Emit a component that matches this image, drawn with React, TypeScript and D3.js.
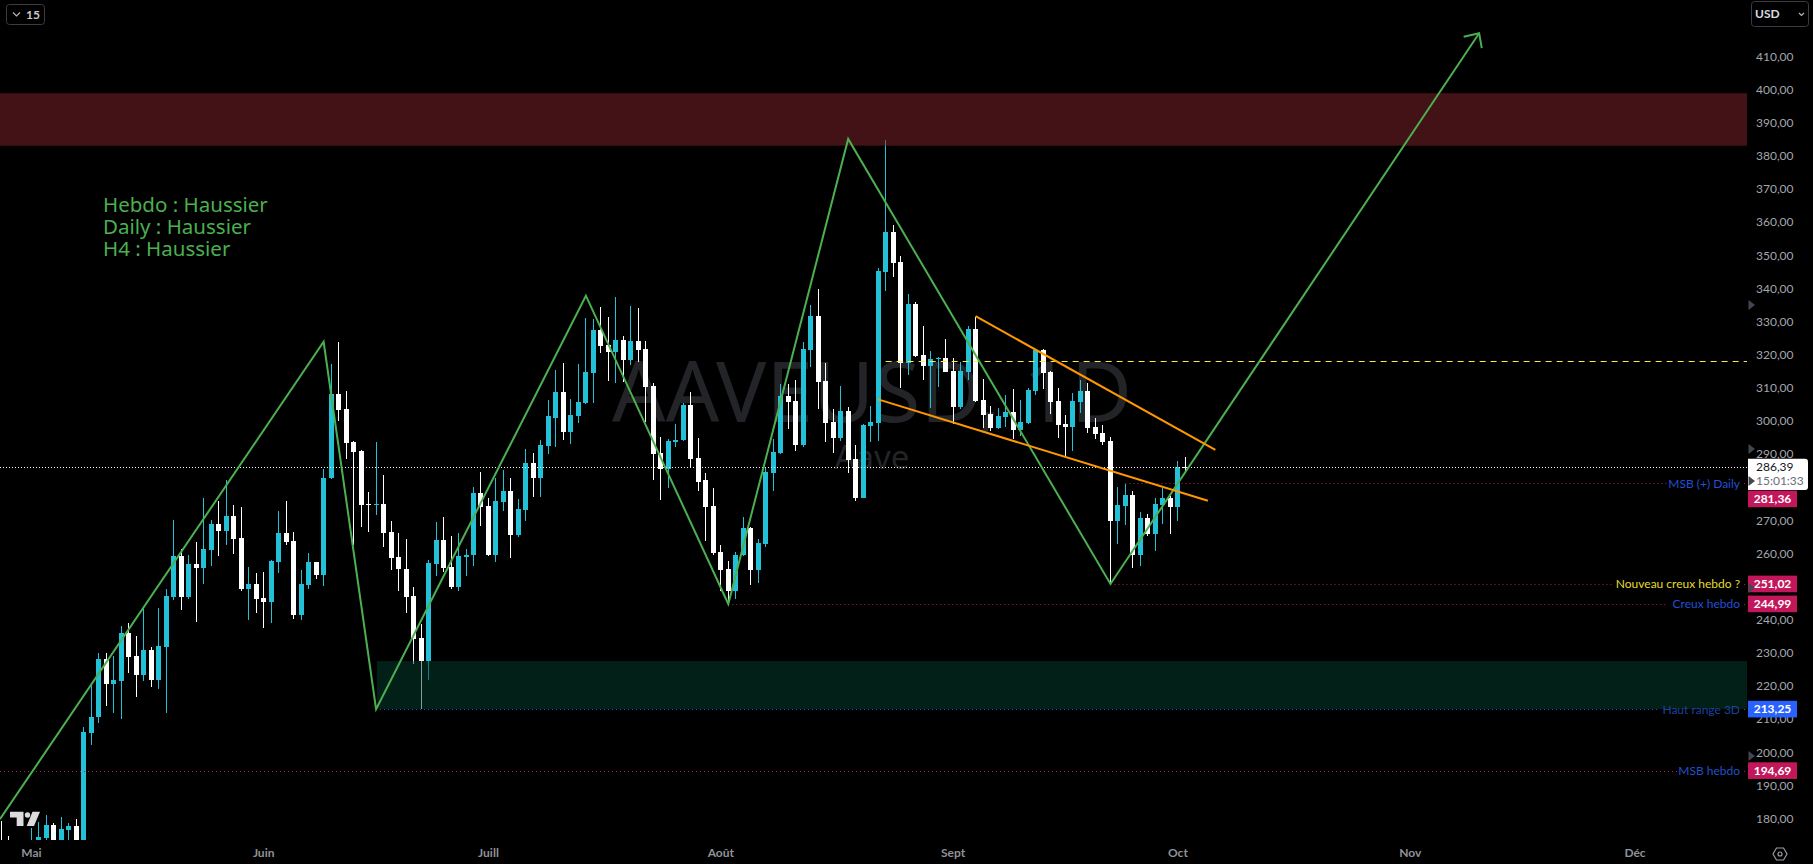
import React from "react";
import * as d3 from "d3";

type Candle = [number, number, number, number]; // open, high, low, close

const lateAprilCandles: Candle[] = [
  [173, 179.4, 168, 170], [173, 174.9, 168, 170], [171, 173, 167, 169], [171, 173, 167, 169],
];
const mayCandles: Candle[] = [
  [170, 177.3, 168, 173], [170, 179.1, 168, 174.6], [174.3, 181.2, 173.5, 178.2], [178.2, 178.8, 170, 172],
  [172, 180.6, 170, 177], [176.7, 178.8, 171, 177.9], [177.9, 180, 170, 172], [172, 208, 170, 206.2],
  [205.9, 220.4, 202.3, 211], [210.8, 230.1, 209, 228.5], [228.5, 230.1, 214.1, 220.7], [220.7, 229.4, 212, 221.9],
  [221.6, 238.2, 210.2, 236.1], [236.1, 239.1, 224, 229.1], [229.4, 235.2, 216.8, 223.4], [223.4, 244.2, 221.6, 231],
  [231, 231.9, 219.8, 221.9], [221.9, 243.9, 219.2, 232.2], [231.9, 249.6, 212, 247.5], [247.2, 270.2, 246.3, 259.3],
  [259.3, 261.7, 243.3, 247.2], [247.2, 259.9, 246.6, 256.9], [256.9, 263.8, 239.4, 255.7], [255.7, 276.8, 250.9, 261.7],
  [261.4, 270.4, 256.3, 269.2], [269.2, 275.9, 259.3, 267.1], [267.1, 282.5, 262.9, 271.4], [271.4, 274.7, 260.2, 264.7],
  [265, 274.1, 249, 249.6], [249.6, 256, 240, 250.9], [250.9, 254.2, 242.1, 246.6],
];
const juneCandles: Candle[] = [
  [246.9, 254.5, 237.6, 245.7], [245.7, 258.1, 239.1, 257.8], [257.5, 272.9, 254.2, 266.5], [266.5, 275.9, 262.9, 263.8],
  [264.1, 266.8, 240.3, 241.5], [241.6, 255.1, 240.1, 250.9], [250.6, 260.5, 249.4, 257.5], [257.5, 257.7, 252.4, 253.6],
  [253.6, 285.6, 250.3, 283.1], [282.9, 317.5, 282.7, 308.2], [308.2, 323.9, 300.3, 303.4], [303.7, 309.1, 288.6, 293.4],
  [293.7, 294, 262.7, 290.7], [291, 291.3, 268.1, 274.7], [275, 278.9, 266.6, 274.7], [274.7, 293.7, 271.7, 275],
  [275, 283.8, 262.3, 266.3], [266.6, 269.9, 255.1, 258.7], [259, 266.3, 248.8, 255.4], [255.4, 264.5, 242.1, 247],
  [247.3, 250, 227, 234.3], [234.6, 238.8, 213.2, 227.7], [227.7, 258.1, 222, 257.2], [256.9, 269.6, 253.3, 264.2],
  [264.2, 271.1, 254.5, 255.7], [256, 265.4, 249.4, 250], [250, 266.3, 248.8, 259.3], [259, 261.7, 253.3, 259.9],
  [259.6, 280.4, 256.3, 278.6], [278.6, 284.7, 268.4, 274.1],
];
const julyCandles: Candle[] = [
  [274.4, 277.1, 259.4, 259.6], [259.6, 283.1, 257.5, 275.9], [275.6, 285.3, 272.9, 279.2], [279.2, 282.9, 258.7, 265.7],
  [265.7, 276.5, 265.1, 273.5], [273.2, 291.6, 269.9, 287.4], [287.4, 290.4, 277.4, 282.9], [282.9, 294.6, 277.4, 292.8],
  [292.5, 306.4, 290.1, 301.6], [301.2, 315.7, 292.2, 308.8], [308.8, 317.8, 294.3, 297], [297, 306.7, 293.1, 302.1],
  [301.8, 317.5, 299.7, 305.8], [305.5, 331.4, 305.2, 315.1], [314.8, 331.1, 305.5, 327.5], [327.5, 334.7, 320.8, 322.7],
  [323, 331.7, 312.4, 321.1], [321.1, 337.7, 311.5, 324.5], [324.5, 325.7, 312.1, 318.7], [318.7, 335, 317.2, 324.2],
  [324.2, 334.4, 318.1, 321.7], [322, 324.2, 300, 310.3], [310.6, 311.5, 282.3, 290.1], [290.4, 295.5, 276.2, 285.6],
  [285.6, 294.9, 280.1, 294], [293.7, 299.4, 292.2, 294.6], [294.3, 305.5, 294, 304.9], [304.9, 308.8, 285.9, 288.6],
  [288.9, 295.2, 279.2, 281.9], [282.3, 284.4, 263.9, 274.1], [274.4, 280.1, 259.9, 260.5],
];
const augustCandles: Candle[] = [
  [260.8, 262.7, 249, 255.1], [255.4, 257.8, 246, 249], [249, 260.8, 246.4, 259.9], [259.6, 271.1, 259.3, 267.8],
  [267.8, 268.1, 250.6, 255.1], [255.1, 264.5, 251.2, 263.3], [263, 286.2, 262.3, 284.9], [284.6, 294.9, 279.2, 290.7],
  [290.4, 311.2, 290.1, 307.6], [307.6, 311.2, 297.9, 305.8], [306.1, 312.7, 291, 292.8], [292.8, 323.9, 292.2, 322],
  [321.7, 335.3, 316.6, 332], [332, 340.1, 303.7, 312.1], [312.4, 317.8, 293.7, 299.7], [300, 303.7, 290.4, 295.2],
  [295.2, 310.6, 294, 303.1], [303.1, 304.3, 284.4, 288.3], [288.6, 292.8, 275.9, 277.1], [277.1, 299.3, 276.8, 299.1],
  [298.8, 304.6, 293.7, 300], [299.7, 346.2, 294, 345.3], [345, 385.1, 339.5, 357.3], [357.3, 359.4, 343.5, 348],
  [348.3, 350.1, 310, 317.8], [317.8, 338.6, 314.2, 335.6], [335.6, 336.2, 319.6, 319.9], [320.2, 328.7, 312.7, 316.9],
  [316.9, 321.2, 304, 319], [319, 319.6, 310.3, 319.3], [319.3, 324.8, 315, 315.1],
];
const septemberCandles: Candle[] = [
  [315.4, 319.3, 299.4, 304.3], [304.3, 318.1, 303.7, 315.4], [315.1, 328.7, 312.7, 327.8], [327.8, 331.7, 306, 306.1],
  [306.4, 313, 298.2, 301.9], [302.2, 304.6, 297.3, 298], [298, 304, 297.9, 301.6], [301.3, 307.9, 298.5, 302.8],
  [302.8, 309.7, 294.9, 297.6], [297.6, 306.4, 295.8, 300], [299.7, 310, 299.4, 309.4], [309.1, 321.8, 307.9, 321.5],
  [321.5, 321.8, 309.7, 314.8], [315.1, 315.4, 302.2, 305.8], [306.1, 310, 295.2, 299.1], [299.4, 301.9, 289.5, 298.5],
  [298.5, 308.5, 291, 306.1], [305.8, 312.7, 302.5, 309.1], [309.1, 311.8, 296.7, 298.2], [298.5, 301, 294.9, 296.4],
  [296.7, 299.1, 292.8, 293.7], [294, 295.5, 251, 269.9], [269.9, 280.4, 263.2, 274.7], [274.4, 281.2, 268.7, 278],
  [278, 279.2, 255.7, 259.9], [259.9, 272.6, 256.3, 270.8], [270.8, 272, 265.6, 266.2], [266.2, 277.1, 261.1, 275],
  [274.7, 280.1, 269, 277.1], [277.1, 277.7, 266.2, 274.1],
];
const octoberCandles: Candle[] = [
  [274.1, 288, 269.9, 286.4], [286.4, 289.2, 285, 286.39],
];
const candles: Candle[] = [
  ...lateAprilCandles, ...mayCandles, ...juneCandles, ...julyCandles,
  ...augustCandles, ...septemberCandles, ...octoberCandles,
];

const priceTicks = [180, 190, 200, 210, 220, 230, 240, 260, 270, 290, 300, 310, 320, 330, 340, 350, 360, 370, 380, 390, 400, 410];
const monthNames = ["Mai", "Juin", "Juill", "Août", "Sept", "Oct", "Nov", "Déc"];
const monthDays = [4, 35, 65, 96, 127, 157, 188, 218];

const zigzag: [number, number][] = [[-0.2, 180], [43, 324.1], [50, 213.25], [78, 338], [97, 244.99], [113, 385.3], [148, 251.02], [197.2, 417.2]];
const upperTrend: [number, number][] = [[130, 331.8], [162, 291.5]];
const lowerTrend: [number, number][] = [[117, 306.7], [161, 276.1]];
const statusLines = ["Hebdo : Haussier", "Daily : Haussier", "H4 : Haussier"];

const lastPrice = 286.39;
const countdown = "15:01:33";
const dashedLevel = 318.2;
const resistanceZone = [383.25, 399.1];
const supportZone = [213.25, 227.75];
const supportZoneStart = 50.1;
const dashedStart = 118;

const levelPrices = [281.36, 251.02, 244.99, 213.25, 194.69];
const levelNames = ["MSB (+) Daily", "Nouveau creux hebdo ?", "Creux hebdo", "Haut range 3D", "MSB hebdo"];
const levelStarts = [150, 148, 97, 50, -1];
const levelTextColors = ["#2150d6", "#e6dc2c", "#2150d6", "#1c429f", "#2150c8"];
const levelLineColors = ["#c2183f", "#c2183f", "#c2183f", "#2f55e0", "#c2183f"];
const levelBoxColors = ["#c2185b", "#c2185b", "#c2185b", "#2962ff", "#c2185b"];
const levelLineEnds = [1667, 1612, 1668, 1658, 1677];
const levelBoxOffsets = [15.5, 0, 0, 0, 0];
const axisArrowPrices = [335.2, 291.7, 282.1, 249.8, 199.1];

const W = 1813, H = 864, plotRight = 1747, plotBottom = 840;
const x = d3.scaleLinear().domain([0, 158]).range([1.4, 1185.4]);
const y = d3.scaleLinear().domain([400, 180]).range([90.2, 819.3]);
const crispY = (v: number) => Math.round(y(v)) + 0.5;
const pline = d3.line<[number, number]>().x(d => x(d[0])).y(d => y(d[1]));
const comma = (v: number) => d3.format(".2f")(v).replace(".", ",");

const FONT = "Lato, 'Noto Sans', sans-serif";
const CYAN = "#22c1d8";
const GREEN = "#4caf50";
const ORANGE = "#ff9800";
const AXIS = "#a3a6ad";

export default function App() {
  const tip = zigzag[zigzag.length - 1];
  const tipX = x(tip[0]), tipY = y(tip[1]);
  return (
    <svg width={W} height={H} viewBox={`0 0 ${W} ${H}`}
      style={{ position: "fixed", left: 0, top: 0, background: "#000", display: "block" }}
      fontFamily={FONT}>
      <defs>
        <clipPath id="plot"><rect x={0} y={0} width={plotRight} height={plotBottom} /></clipPath>
      </defs>
      <rect width={W} height={H} fill="#000" />

      <g clipPath="url(#plot)">
        <text x={872} y={421.7} textAnchor="middle" fontSize={84} textLength={520} lengthAdjust="spacingAndGlyphs"
          fontFamily="'Noto Sans', sans-serif" fill="#222428">AAVEUSD, 1D</text>
        <text x={872} y={469} textAnchor="middle" fontSize={33} fontFamily="'Noto Sans', sans-serif" fill="#222428">Aave</text>

        <g shapeRendering="crispEdges">
          {candles.map((c, i) => {
            const [o, h, l, cl] = c;
            const cx = Math.floor(x(i));
            const up = cl > o;
            const col = up ? CYAN : "#ffffff";
            const top = y(Math.max(o, cl)), bot = y(Math.min(o, cl));
            return (
              <g key={i} fill={col}>
                <rect x={cx} y={y(h)} width={1} height={y(l) - y(h)} />
                <rect x={cx - 2} y={top} width={5} height={Math.max(1, bot - top)} />
              </g>
            );
          })}
        </g>

        <rect x={0} width={plotRight} y={y(resistanceZone[1])} height={y(resistanceZone[0]) - y(resistanceZone[1])} fill="#85242c" fillOpacity={0.5} />
        <rect x={x(supportZoneStart)} width={plotRight - x(supportZoneStart)} y={y(supportZone[1])} height={y(supportZone[0]) - y(supportZone[1])} fill="#043f30" fillOpacity={0.5} />

        <line x1={0} x2={plotRight} y1={crispY(lastPrice)} y2={crispY(lastPrice)} stroke="#fff" strokeWidth={1} strokeDasharray="1 2" />
        <line x1={x(dashedStart)} x2={plotRight} y1={crispY(dashedLevel)} y2={crispY(dashedLevel)} stroke="#ffeb3b" strokeWidth={1} strokeDasharray="6 5" />

        {levelPrices.map((p, i) => (
          <g key={p}>
            <line x1={Math.max(0, x(levelStarts[i]))} x2={levelLineEnds[i]} y1={crispY(p)} y2={crispY(p)}
              stroke={levelLineColors[i]} strokeWidth={1} strokeDasharray="1 3" />
            <line x1={1744} x2={1747} y1={crispY(p)} y2={crispY(p)} stroke={levelLineColors[i]} strokeWidth={1} strokeDasharray="1 3" />
            <text x={1740} y={y(p) + 4.5} textAnchor="end" fontSize={12} fill={levelTextColors[i]}>{levelNames[i]}</text>
          </g>
        ))}

        <path d={pline(zigzag) ?? ""} fill="none" stroke={GREEN} strokeWidth={2} />
        <path d={`M${tipX - 15.5},${tipY + 3.6}L${tipX},${tipY}L${tipX + 2.6},${tipY + 15}`} fill="none" stroke={GREEN} strokeWidth={2} />
        <path d={pline(upperTrend) ?? ""} fill="none" stroke={ORANGE} strokeWidth={2} />
        <path d={pline(lowerTrend) ?? ""} fill="none" stroke={ORANGE} strokeWidth={2} />

        {statusLines.map((s, i) => (
          <text key={s} x={103} y={212 + i * 22} fontSize={20.5} fontFamily="'Noto Sans', sans-serif" fill={GREEN}>{s}</text>
        ))}

        {/* logo */}
        <g fill="#dcdcdc">
          <path d="M10 811.7H23.5V826H16.7V817.4H10Z" />
          <circle cx={27.5} cy={815} r={2.7} />
          <path d="M32.5 811.7H40L34 826H26.7Z" />
        </g>
      </g>

      {/* price axis */}
      {priceTicks.map(t => (
        <text key={t} x={1756} y={y(t) + 3.6} fontSize={12} fill={AXIS}>{comma(t)}</text>
      ))}

      {levelPrices.map((p, i) => (
        <g key={p}>
          <rect x={1748} y={y(p) - 8.3 + levelBoxOffsets[i]} width={49} height={16.6} fill={levelBoxColors[i]} />
          <text x={1772.5} y={y(p) + 4.2 + levelBoxOffsets[i]} textAnchor="middle" fontSize={12} fontWeight={700} fill="#fff">{comma(p)}</text>
        </g>
      ))}

      <path d={`M1748 ${y(lastPrice) - 8}H1805a3 3 0 0 1 3 3V487a3 3 0 0 1 -3 3H1748Z`} fill="#fff" />
      <text x={1756} y={y(lastPrice) + 4.5} fontSize={12} fill="#131722">{comma(lastPrice)}</text>
      <text x={1756} y={y(lastPrice) + 18.5} fontSize={12} fill="#6a6d78">{countdown}</text>

      {axisArrowPrices.map(p => (
        <path key={p} d={`M1748.5 ${y(p) - 5}L1755 ${y(p)}L1748.5 ${y(p) + 5}Z`} fill="#434651" />
      ))}

      {/* time axis */}
      {monthDays.map((d, i) => (
        <text key={d} x={x(d)} y={857} textAnchor="middle" fontSize={12} fontWeight={700} fill="#8f9298">{monthNames[i]}</text>
      ))}

      {/* buttons */}
      <rect x={6.5} y={4.5} width={38} height={20} rx={3} fill="none" stroke="#3a3c42" />
      <path d="M13 12.5L16.5 16L20 12.5" fill="none" stroke="#b2b5be" strokeWidth={1.2} />
      <text x={26} y={19} fontSize={12} fontWeight={700} fill="#c8cad0">15</text>
      <rect x={1751.5} y={1.5} width={57} height={25} rx={3} fill="none" stroke="#3a3c42" />
      <text x={1755} y={18} fontSize={12} fontWeight={700} fill="#d9dbe0">USD</text>
      <path d="M1799 13L1801.5 15.5L1804 13" fill="none" stroke="#b2b5be" strokeWidth={1.2} />

      <path d="M1773 854L1776.5 848H1783.5L1787 854L1783.5 860H1776.5Z" fill="none" stroke="#9a9ca3" strokeWidth={1.2} />
      <circle cx={1780} cy={854} r={2} fill="none" stroke="#9a9ca3" strokeWidth={1.2} />
    </svg>
  );
}
